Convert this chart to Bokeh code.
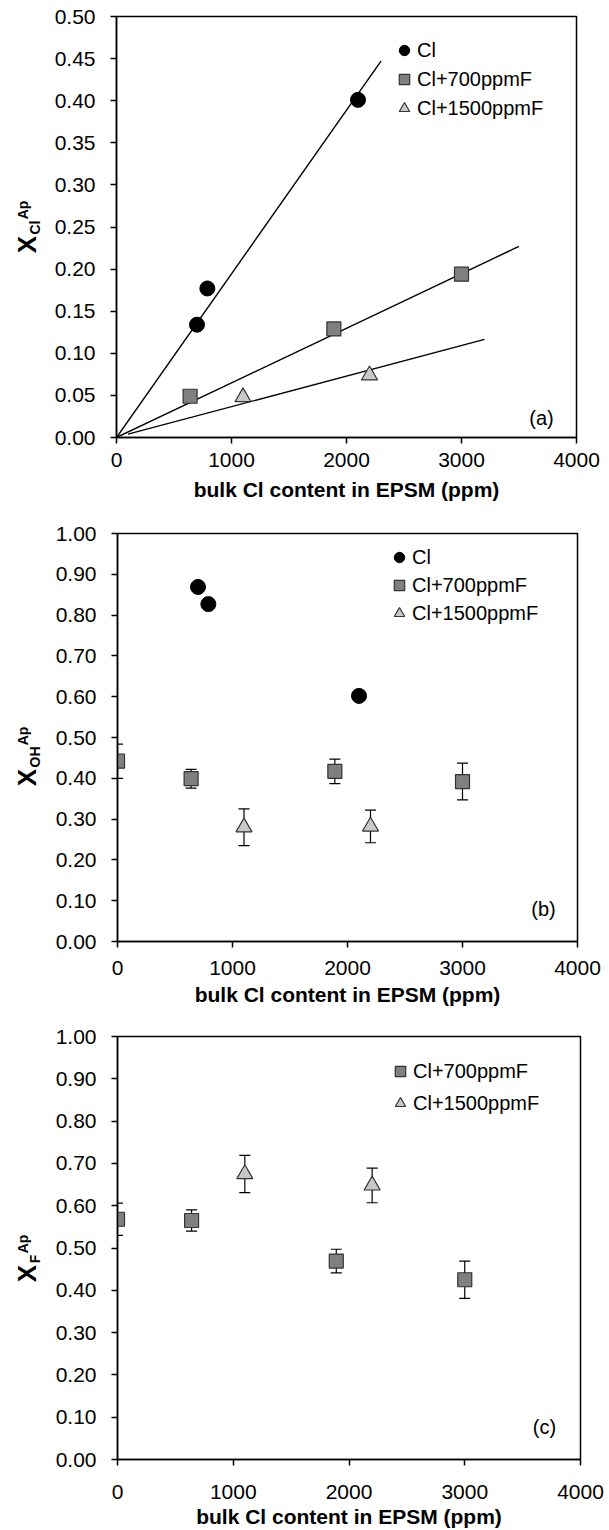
import math
from bokeh.plotting import figure
from bokeh.models import (Range1d, FixedTicker, NumeralTickFormatter, Legend, LegendItem,
                          Label, Whisker, TeeHead, ColumnDataSource)
from bokeh.layouts import column, row
from bokeh.embed import file_html
from bokeh.resources import INLINE

FONT = "Liberation Sans"

# ---------------- data ----------------
x_ticks = [0, 1000, 2000, 3000, 4000]
ya_ticks = [0.0, 0.05, 0.10, 0.15, 0.20, 0.25, 0.30, 0.35, 0.40, 0.45, 0.50]
ybc_ticks = [0.0, 0.1, 0.2, 0.3, 0.4, 0.5, 0.6, 0.7, 0.8, 0.9, 1.0]
series_names = ["Cl", "Cl+700ppmF", "Cl+1500ppmF"]

# Cl only
cl_x = [700, 790, 2100]
cl_xcl = [0.134, 0.177, 0.401]
cl_xoh = [0.869, 0.827, 0.602]

# Cl + 700 ppm F
f700a_x = [640, 1890, 3000]
f700_xcl = [0.049, 0.129, 0.194]
f700_x = [0, 640, 1890, 3000]
f700_xoh = [0.442, 0.399, 0.417, 0.392]
f700_xoh_err = [0.042, 0.023, 0.030, 0.045]
f700_xf = [0.568, 0.565, 0.469, 0.425]
f700_xf_err = [0.038, 0.025, 0.028, 0.044]

# Cl + 1500 ppm F
f1500_x = [1100, 2200]
f1500_xcl = [0.048, 0.074]
f1500_xoh = [0.280, 0.282]
f1500_xoh_err = [0.045, 0.040]
f1500_xf = [0.675, 0.648]
f1500_xf_err = [0.044, 0.041]

# trend lines in panel (a): end points
trend_cl_x = [0, 2300]
trend_cl_y = [0.0, 0.447]
trend_700_x = [0, 3500]
trend_700_y = [0.0, 0.227]
trend_1500_x = [100, 3200]
trend_1500_y = [0.004, 0.1165]

# ---------------- styles ----------------
CIRCLE = dict(marker="circle", size=15, fill_color="black", line_color="black")
SQUARE = dict(marker="square", size=14, fill_color="#808080", line_color="#333333", line_width=1.2)
TRI = dict(marker="triangle", size=16, fill_color="#c8c8c8", line_color="#333333", line_width=1.2)

LBL_W = 45


def make_panel(height, top, bottom, left, right, y_end, y_ticks, y_fmt, xstand, lstand):
    p = figure(width=609 - LBL_W, height=height, x_range=Range1d(0, 4000), y_range=Range1d(0, y_end),
               output_backend="svg", toolbar_location=None,
               min_border_top=top, min_border_bottom=bottom,
               min_border_left=left - LBL_W, min_border_right=right)
    p.title = None
    p.grid.visible = False
    p.outline_line_color = "black"
    p.outline_line_width = 1.5
    p.outline_line_alpha = 1.0
    p.background_fill_color = "white"
    p.border_fill_color = "white"
    for ax in (p.xaxis[0], p.yaxis[0]):
        ax.axis_line_color = "black"
        ax.axis_line_width = 1.5
        ax.major_tick_line_color = "black"
        ax.major_tick_line_width = 1.5
        ax.major_tick_out = 6
        ax.major_tick_in = 0
        ax.minor_tick_line_color = None
        ax.major_label_text_font = FONT
        ax.major_label_text_font_size = "21px"
        ax.major_label_text_color = "black"
    p.xaxis.ticker = FixedTicker(ticks=x_ticks)
    p.yaxis.ticker = FixedTicker(ticks=y_ticks)
    p.yaxis.formatter = NumeralTickFormatter(format=y_fmt)
    p.xaxis.major_label_standoff = xstand
    p.yaxis.major_label_standoff = 15
    p.xaxis.axis_label = "bulk Cl content in EPSM (ppm)"
    p.xaxis.axis_label_text_font = FONT
    p.xaxis.axis_label_text_font_size = "21px"
    p.xaxis.axis_label_text_font_style = "bold"
    p.xaxis.axis_label_text_color = "black"
    p.xaxis.axis_label_standoff = lstand
    return p


def make_ylabel_fig(height, sub, sup, x_center_y, sub_len):
    # narrow companion figure holding the rotated y-axis title  X_sub^sup.
    # Its frame is aligned with the neighbouring panel's frame by the row layout,
    # so x_center_y is measured upward from the shared frame bottom.
    f = figure(width=LBL_W, height=height, x_range=Range1d(0, 1), y_range=Range1d(0, 1),
               output_backend="svg", toolbar_location=None,
               x_axis_type=None, y_axis_type=None,
               min_border_top=0, min_border_bottom=0, min_border_left=0, min_border_right=0)
    f.title = None
    f.grid.visible = False
    f.outline_line_color = None
    f.background_fill_color = "white"
    f.border_fill_color = "white"
    common = dict(x_units="screen", y_units="screen", angle=math.pi / 2,
                  text_align="center", text_baseline="middle",
                  text_font=FONT, text_font_style="bold", text_color="black")
    f.add_layout(Label(x=26, y=x_center_y, text="X", text_font_size="26px", **common))
    sub_c = x_center_y + 9 + 1 + sub_len / 2
    f.add_layout(Label(x=34, y=sub_c, text=sub, text_font_size="14px", **common))
    sup_c = x_center_y + 9 + 1 + sub_len + 1 + 9.5
    f.add_layout(Label(x=22, y=sup_c, text=sup, text_font_size="14px", **common))
    return f


def add_tag(p, text, x, y):
    p.add_layout(Label(x=x, y=y, x_units="screen", y_units="screen", text=text,
                       text_align="center", text_baseline="middle",
                       text_font=FONT, text_font_size="20px", text_color="black"))


def add_legend(p, items, x_off, y_off, spacing):
    lg = Legend(items=items, location=(x_off, y_off), orientation="vertical",
                border_line_color=None, background_fill_alpha=0.0,
                padding=0, margin=0, spacing=spacing,
                glyph_width=26, glyph_height=28, label_standoff=0,
                label_text_font=FONT, label_text_font_size="20px", label_text_color="black")
    p.add_layout(lg)


def add_err(p, xs, ys, errs):
    src = ColumnDataSource(dict(x=xs, upper=[y + e for y, e in zip(ys, errs)],
                                lower=[y - e for y, e in zip(ys, errs)]))
    w = Whisker(source=src, base="x", upper="upper", lower="lower",
                line_color="black", line_width=1.2,
                upper_head=TeeHead(size=11, line_color="black", line_width=1.2),
                lower_head=TeeHead(size=11, line_color="black", line_width=1.2))
    p.add_layout(w)


# ---------------- panel (a) ----------------
HA, HB, HC = 510, 499, 521
pa = make_panel(HA, 16, 73, 116, 33, 0.5, ya_ticks, "0.00", 9, 8)
pa.line(trend_cl_x, trend_cl_y, line_color="black", line_width=1.4)
pa.line(trend_700_x, trend_700_y, line_color="black", line_width=1.4)
pa.line(trend_1500_x, trend_1500_y, line_color="black", line_width=1.4)
ra1 = pa.scatter(cl_x, cl_xcl, **CIRCLE)
ra2 = pa.scatter(f700a_x, f700_xcl, **SQUARE)
ra3 = pa.scatter(f1500_x, f1500_xcl, **TRI)
add_legend(pa, [LegendItem(label=series_names[0], renderers=[ra1]),
                LegendItem(label=series_names[1], renderers=[ra2]),
                LegendItem(label=series_names[2], renderers=[ra3])], 275, 315, 1)
add_tag(pa, "(a)", 425, 20)
la = make_ylabel_fig(HA, "Cl", "Ap", 437 - 244, 14)

# ---------------- panel (b) ----------------
pb = make_panel(HB, 23, 68, 117, 32, 1.0, ybc_ticks, "0.00", 13, 5)
add_err(pb, f700_x, f700_xoh, f700_xoh_err)
add_err(pb, f1500_x, f1500_xoh, f1500_xoh_err)
rb1 = pb.scatter(cl_x, cl_xoh, **CIRCLE)
rb2 = pb.scatter(f700_x, f700_xoh, **SQUARE)
rb3 = pb.scatter(f1500_x, f1500_xoh, **TRI)
add_legend(pb, [LegendItem(label=series_names[0], renderers=[rb1]),
                LegendItem(label=series_names[1], renderers=[rb2]),
                LegendItem(label=series_names[2], renderers=[rb3])], 269, 314, 0)
add_tag(pb, "(b)", 426, 33)
lb = make_ylabel_fig(HB, "OH", "Ap", 941 - 777, 21)

# ---------------- panel (c) ----------------
pc = make_panel(HC, 27, 71, 117, 29, 1.0, ybc_ticks, "0.00", 19, 3)
add_err(pc, f700_x, f700_xf, f700_xf_err)
add_err(pc, f1500_x, f1500_xf, f1500_xf_err)
rc2 = pc.scatter(f700_x, f700_xf, **SQUARE)
rc3 = pc.scatter(f1500_x, f1500_xf, **TRI)
add_legend(pc, [LegendItem(label=series_names[1], renderers=[rc2]),
                LegendItem(label=series_names[2], renderers=[rc3])], 270, 342, 4)
add_tag(pc, "(c)", 427, 33)
lc = make_ylabel_fig(HC, "F", "Ap", 1459 - 1273, 9)

p = column(row(la, pa, spacing=0), row(lb, pb, spacing=0), row(lc, pc, spacing=0), spacing=0)
open("out.html", "w").write(file_html(p, INLINE))
